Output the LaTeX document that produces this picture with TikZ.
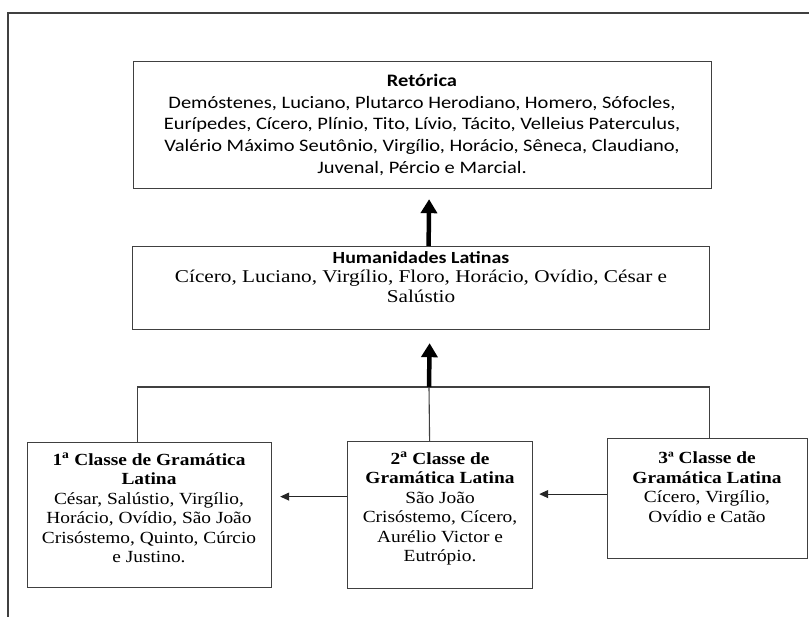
\documentclass[tikz,border=0pt]{standalone}
\usepackage{fontspec}
\usepackage{tikz}
\usetikzlibrary{arrows.meta}
\setmainfont{Liberation Serif}[FakeStretch = 1.14]
\newfontfamily\calibri{Carlito}[FakeStretch = 1.17]
\newfontfamily\timeswide{Liberation Serif}[FakeStretch = 1.18]

\begin{document}
\begin{tikzpicture}[x = 1pt, y = -1pt,
        box/.style = {draw = black!75, line width = 1.2pt, anchor = north west, inner sep = 0pt},
        txt/.style = {anchor = north, align = center, inner sep = 0pt, font = \fontsize{17}{19.5}\selectfont},
        ctxt/.style = {anchor = north, align = center, inner sep = 0pt, font = \calibri\fontsize{17.5}{21.75}\selectfont},
        line/.style = {draw = black!75, line width = 1.1pt},
        bigarrow/.style = {line width = 4.5pt, -{Triangle[width = 16pt, length = 14pt]}},
        smallarrow/.style = {draw = black!85, line width = 1.1pt, -{Triangle[width = 8pt, length = 9pt]}}]
        \useasboundingbox (0,0) rectangle (809,617);
        \draw [line] (809,13) -- (8,13) -- (8,617);

        \node [box, minimum width = 578pt, minimum height = 127pt] (retorica) at (133,61) {};
        \node [ctxt] (retoricatxt) at (422,74) {\textbf{Retórica}\\
            Demóstenes, Luciano, Plutarco Herodiano, Homero, Sófocles,\\
            Eurípedes, Cícero, Plínio, Tito, Lívio, Tácito, Velleius Paterculus,\\
            Valério Máximo Seutônio, Virgílio, Horácio, Sêneca, Claudiano,\\
            Juvenal, Pércio e Marcial.};

        \node [box, minimum width = 577pt, minimum height = 83pt] (humanidades) at (132,246) {};
        \node [txt, font = \timeswide\fontsize{18}{19.5}\selectfont] (humanidadestxt) at (421,251) {{\calibri\fontsize{17}{21.5}\selectfont\bfseries Humanidades Latinas}\\
            Cícero, Luciano, Virgílio, Floro, Horácio, Ovídio, César e\\
            Salústio};

        \node [box, minimum width = 244pt, minimum height = 145pt] (gram1) at (27,442) {};
        \node [txt] (gram1txt) at (149,453) {\textbf{1\textsuperscript{a} Classe de Gramática}\\
            \textbf{Latina}\\
            César, Salústio, Virgílio,\\
            Horácio, Ovídio, São João\\
            Crisóstemo, Quinto, Cúrcio\\
            e Justino.};

        \node [box, minimum width = 185pt, minimum height = 147pt] (gram2) at (347,441) {};
        \node [txt] (gram2txt) at (440,452) {\textbf{2\textsuperscript{a} Classe de}\\
            \textbf{Gramática Latina}\\
            São João\\
            Crisóstemo, Cícero,\\
            Aurélio Victor e\\
            Eutrópio.};

        \node [box, minimum width = 200pt, minimum height = 120pt] (gram3) at (607,438) {};
        \node [txt] (gram3txt) at (707,452) {\textbf{3ª Classe de}\\
            \textbf{Gramática Latina}\\
            Cícero, Virgílio,\\
            Ovídio e Catão};

        \coordinate (join) at (429,387);
        \draw [line] ([xshift = -12pt]gram1.north) |- (join) -| ([xshift = 2pt]gram3.north);
        \draw [line] (join) -- ([xshift = -10.5pt]gram2.north);
        \draw [bigarrow] (join) -- ([xshift = 8.5pt, yshift = -13pt]humanidades.south);
        \draw [bigarrow] ([xshift = 7.5pt]humanidades.north) -- ([xshift = 6.5pt, yshift = -10pt]retorica.south);

        \draw [smallarrow] ([yshift = 18.5pt]gram2.west) -- ([xshift = 8pt, yshift = 18.5pt]gram1.east);
        \draw [smallarrow] ([yshift = 4.5pt]gram3.west) -- ([xshift = 6pt, yshift = 21pt]gram2.east);
    \end{tikzpicture}
\end{document}
